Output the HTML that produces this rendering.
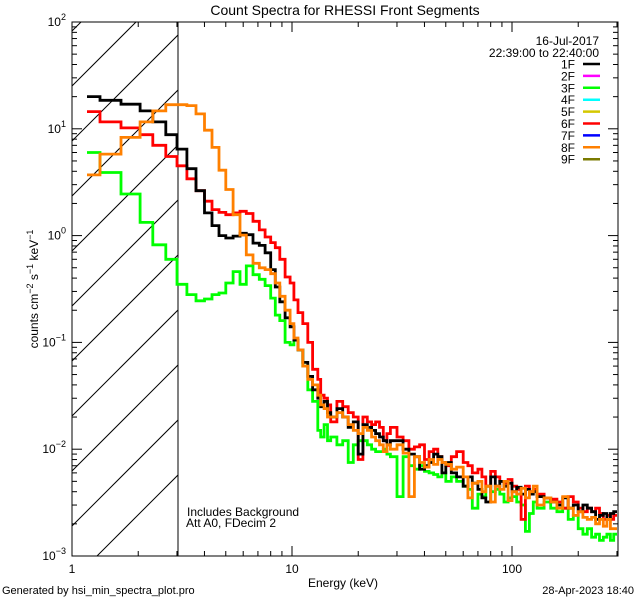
<!DOCTYPE html>
<html><head><meta charset="utf-8"><style>
html,body{margin:0;padding:0;background:#fff;width:640px;height:600px;overflow:hidden}
svg{display:block;font-family:"Liberation Sans","DejaVu Sans",sans-serif;overflow:hidden}
</style></head><body>
<svg id="chart" width="640" height="600" viewBox="0 0 640 600" xmlns="http://www.w3.org/2000/svg">
<rect width="640" height="600" fill="#fff"/>
<text x="345" y="15" font-size="14" text-anchor="middle">Count Spectra for RHESSI Front Segments</text>
<defs><clipPath id="hclip"><rect x="72" y="22" width="106" height="534"/></clipPath>
<clipPath id="pclip"><rect x="72" y="22" width="546" height="534"/></clipPath></defs>
<g id="hatch" clip-path="url(#hclip)" stroke="#000" stroke-width="1"></g>
<line x1="178" y1="22" x2="178" y2="556" stroke="#000" stroke-width="1"/>
<g id="series" clip-path="url(#pclip)"></g>
<g id="axes" stroke="#000" stroke-width="1"></g>
<g id="labels"></g>
<text x="343" y="587" font-size="12" text-anchor="middle">Energy (keV)</text>
<text transform="translate(38,289) rotate(-90)" font-size="12" text-anchor="middle">counts cm<tspan dy="-5" font-size="9">−2</tspan><tspan dy="5"> s</tspan><tspan dy="-5" font-size="9">−1</tspan><tspan dy="5"> keV</tspan><tspan dy="-5" font-size="9">−1</tspan></text>
<text x="187" y="516" font-size="12">Includes Background</text>
<text x="186" y="527" font-size="12">Att A0, FDecim 2</text>
<text x="2" y="594" font-size="11">Generated by hsi_min_spectra_plot.pro</text>
<text x="634" y="594" font-size="11" text-anchor="end">28-Apr-2023 18:40</text>
<text x="599" y="45" font-size="12" text-anchor="end">16-Jul-2017</text>
<text x="599" y="57" font-size="12" text-anchor="end">22:39:00 to 22:40:00</text>
<g id="legend"></g>
</svg>
<script>
const edges=[1.17,1.34,1.67,2.04,2.33,2.67,3,3.33,3.66,4,4.33,4.66,5,5.4,5.8,6.2,6.65,7.1,7.55,8,8.4,8.8,9.3,9.8,10.2,10.65,11.2,11.8,12.4,13.1,13.5,14,14.5,15,16,17,18,19,20,21,22,23,24,25,26,27,28,30,32,34,36,38,40,42,44,46,48,50,53,56,60,63,66,70,73,76,80,84,88,92,96,100,105,110,115,120,125,130,140,150,160,170,180,190,200,210,220,230,240,250,260,270,280,290,300];
const black=[20,18.5,17,14.7,11.6,8.8,
6.46,4.23,2.63,1.63,1.24,1.0,0.95,0.99,1.05,1.02,0.85,0.81,0.69,0.48,0.33,0.24,0.17,0.14,0.105,0.085,0.065,0.048,0.036,
0.03,0.025,0.028,0.022,0.02,0.024,0.02,0.016,
0.018,0.009,0.017,0.016,0.015,0.014,0.013,0.012,0.011,0.012,
0.012,0.01,0.009,0.0085,0.0065,0.007,0.0075,0.009,0.0085,0.006,
0.0075,0.006,0.0055,0.0045,0.0055,0.0048,0.0042,0.0035,0.0032,0.0055,
0.0045,0.005,0.0045,0.0048,0.004,0.0044,0.0038,0.0042,0.0038,0.004,
0.0036,0.0035,0.0032,0.003,0.0035,0.0028,0.003,0.0026,0.003,0.0028,
0.0026,0.0022,0.0024,0.0025,0.0022,0.0025,0.0026];
const green=[6,3.9,2.45,1.33,0.82,0.6,
0.35,0.28,0.245,0.255,0.28,0.29,0.36,0.46,0.35,0.52,0.43,0.39,0.34,0.26,0.18,0.16,0.1,0.095,0.105,0.085,0.06,0.036,0.028,
0.015,0.013,0.017,0.012,0.013,0.011,0.012,0.0075,
0.011,0.012,0.012,0.011,0.01,0.0095,0.0095,0.01,0.009,0.0085,
0.0036,0.0085,0.007,0.0065,0.007,0.0062,0.006,0.0058,0.0055,0.006,
0.005,0.0055,0.005,0.0045,0.0042,0.0028,0.0038,0.0036,0.0045,0.004,
0.0042,0.0038,0.0032,0.0035,0.0036,0.0032,0.003,0.0017,0.0025,0.0032,
0.0028,0.0032,0.0028,0.0026,0.0028,0.0022,0.0024,0.0018,0.0016,0.0018,
0.0015,0.0016,0.0014,0.0015,0.0016,0.0014,0.0016];
const red=[14.5,11.6,10.2,8.8,7,5.5,
4.5,3.4,2.63,2.1,1.75,1.65,1.57,1.63,1.69,1.61,1.36,1.13,0.97,0.86,0.77,0.6,0.41,0.36,0.25,0.19,0.15,0.1,0.056,
0.045,0.032,0.03,0.026,0.018,0.028,0.025,0.022,
0.02,0.008,0.02,0.018,0.017,0.018,0.016,0.012,0.014,0.016,
0.013,0.012,0.01,0.0105,0.011,0.008,0.0095,0.01,0.0085,0.0075,
0.007,0.0085,0.0095,0.0075,0.007,0.006,0.0065,0.0055,0.0045,0.0062,
0.0055,0.005,0.0048,0.0052,0.0045,0.0042,0.0022,0.0045,0.004,0.0042,
0.0038,0.0035,0.0034,0.0032,0.0028,0.0036,0.0032,0.0028,0.0026,0.0028,
0.0026,0.0028,0.0025,0.0022,0.0024,0.0022,0.0024];
const orange=[3.7,5.8,8.3,11.6,14.7,16.8,
16.8,16.5,13.8,9.7,6.7,4.1,2.7,1.57,1.01,0.66,0.55,0.5,0.48,0.44,0.36,0.27,0.2,0.15,0.11,0.085,0.06,0.045,0.04,
0.032,0.026,0.024,0.02,0.02,0.022,0.02,0.017,
0.015,0.014,0.016,0.015,0.013,0.012,0.011,0.0095,0.011,0.01,
0.011,0.0092,0.0036,0.0085,0.0075,0.0068,0.008,0.0072,0.008,0.0075,
0.0072,0.0065,0.0068,0.0055,0.0035,0.0048,0.005,0.004,0.0045,0.0032,
0.0045,0.0042,0.005,0.0033,0.004,0.0038,0.0043,0.0035,0.004,0.0045,
0.003,0.0035,0.0032,0.0028,0.0036,0.0028,0.0024,0.0026,0.0023,0.0022,
0.0023,0.002,0.0022,0.0019,0.0022,0.0018,0.0018];
const legendLabels=["1F","2F","3F","4F","5F","6F","7F","8F","9F"];
const legendColors=["#000","#ff00ff","#00ff00","#00ffff","#d4c800","#ff0000","#0000ff","#ff8000","#7a7a00"];
const xTicks=[1,10,100];
const yTickExp=[-3,-2,-1,0,1,2];

const NS="http://www.w3.org/2000/svg";
const L=72,R=618,T=22,B=556;
const X=e=>L+220*Math.log10(e);
const Y=v=>B-(Math.log10(v)+3)*(B-T)/5;
function mk(tag,attrs,parent){const el=document.createElementNS(NS,tag);for(const k in attrs)el.setAttribute(k,attrs[k]);parent.appendChild(el);return el;}

// hatch
const hatch=document.getElementById('hatch');
for(let c=86-55*2;c<=86+55*9;c+=55){
  const ln=mk('line',{x1:L,y1:c,x2:L+110,y2:c-110},hatch);
  
  
}

// series
const sg=document.getElementById('series');
const series=[["green-3f",green,"#00ff00"],["red-6f",red,"#ff0000"],["black-1f",black,"#000"],["orange-8f",orange,"#ff8000"]];
series.forEach(([nm,vals,col])=>{
  let d="";const n=Math.min(vals.length,edges.length-1);
  for(let i=0;i<n;i++){const y=Y(vals[i]).toFixed(1);
    d+=(i?"L":"M")+X(edges[i]).toFixed(1)+","+y+"L"+X(edges[i+1]).toFixed(1)+","+y;}
  const p=mk('path',{d:d,fill:"none",stroke:col,"stroke-width":2.8,"stroke-linejoin":"miter"},sg);
  
  
});

// axes
const ax=document.getElementById('axes');
const frame=mk('rect',{x:L,y:T,width:R-L,height:B-T,fill:"none"},ax);


const lab=document.getElementById('labels');
for(let dec=0;dec<3;dec++){for(let m=1;m<10;m++){const e=m*Math.pow(10,dec);if(e>300)break;const x=X(e);const len=m===1?10:5;
  const t1=mk('line',{x1:x,y1:B,x2:x,y2:B-len},ax);
  
  
  const t2=mk('line',{x1:x,y1:T,x2:x,y2:T+len},ax);
  
  
}}
xTicks.forEach(e=>{const t=mk('text',{x:X(e),y:573,"font-size":12,"text-anchor":"middle"},lab);t.textContent=String(e);
  
  });
for(let ex=-3;ex<2;ex++){for(let m=1;m<10;m++){const v=m*Math.pow(10,ex);const y=Y(v);const len=m===1?10:5;
  const t1=mk('line',{x1:L,y1:y,x2:L+len,y2:y},ax);
  
  
  const t2=mk('line',{x1:R,y1:y,x2:R-len,y2:y},ax);
  
  
}}
yTickExp.forEach(ex=>{const y=Y(Math.pow(10,ex));
  const t=mk('text',{x:66,y:y+4,"font-size":12,"text-anchor":"end"},lab);
  t.innerHTML='10<tspan dy="-6" font-size="9">'+(ex<0?'−'+(-ex):ex)+'</tspan>';
  
  });

// legend
const lg=document.getElementById('legend');
legendLabels.forEach((s,i)=>{const y=64+i*11.9;
  const g=mk('g',{},lg);
  
  
  const t=mk('text',{x:575,y:y+4.5,"font-size":12,"text-anchor":"end"},g);t.textContent=s;
  mk('line',{x1:583,y1:y,x2:600,y2:y,stroke:legendColors[i],"stroke-width":2.5},g);});
</script>
</body></html>
